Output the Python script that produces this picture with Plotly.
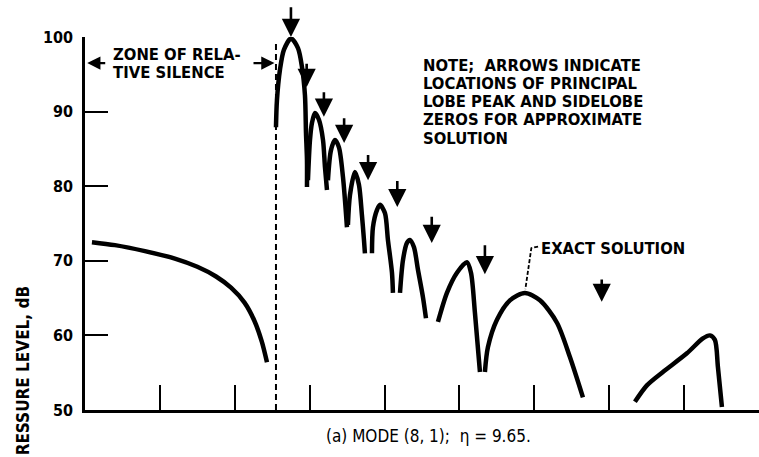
import plotly.graph_objects as go

# ---------------- data (x: angle-like axis units, y: sound pressure level, dB) ----------------
x_ticks = [10, 20, 30, 40, 50, 60, 70, 80]
y_ticks = [50, 60, 70, 80, 90, 100]

# Exact solution, split into segments (lobes)
seg_left_x = [0.93, 4.0, 8.0, 12.0, 15.0, 17.5, 19.5, 21.3, 22.6, 23.6, 24.3]
seg_left_y = [72.5, 72.1, 71.3, 70.3, 69.2, 67.9, 66.4, 64.4, 62.0, 59.2, 56.4]

lobe1_x = [25.50, 25.63, 26.03, 26.57, 27.50, 28.44, 28.97, 29.37, 29.51, 29.64, 29.64]
lobe1_y = [87.9, 91.5, 95.6, 98.3, 99.8, 98.5, 96.0, 92.2, 87.1, 83.5, 79.9]

lobe2_x = [29.77, 30.04, 30.31, 30.71, 31.24, 31.78, 32.04, 32.31]
lobe2_y = [80.8, 86.2, 88.5, 89.8, 88.9, 86.2, 82.6, 79.5]

lobe3_x = [32.44, 32.84, 33.38, 33.91, 34.45, 34.98]
lobe3_y = [80.8, 84.8, 86.2, 85.2, 81.2, 74.5]

lobe4_x = [35.11, 35.38, 36.05, 36.58, 36.98, 37.25, 37.38]
lobe4_y = [74.8, 78.8, 81.9, 80.2, 76.1, 72.8, 71.0]

lobe5_x = [38.32, 38.45, 38.98, 39.39, 40.05, 40.45, 40.99, 41.12]
lobe5_y = [71.0, 74.5, 76.8, 77.5, 76.4, 72.8, 68.4, 65.7]

lobe6_x = [42.06, 42.46, 42.99, 43.39, 43.93, 44.46, 45.13, 45.53]
lobe6_y = [65.7, 70.1, 72.4, 72.8, 71.8, 68.8, 65.1, 62.3]

lobe7_x = [47.13, 48.33, 49.67, 51.00, 51.54, 52.07, 52.74]
lobe7_y = [61.8, 65.7, 68.4, 69.8, 68.4, 63.0, 55.1]

lobe8_x = [53.40, 53.80, 55.01, 56.74, 58.74, 60.75, 63.02, 64.75, 66.49]
lobe8_y = [55.1, 58.4, 62.1, 64.7, 65.7, 64.7, 61.7, 57.1, 51.7]

lobe9_x = [73.43, 75.03, 77.17, 80.37, 82.51, 83.44, 84.11, 84.51, 85.05]
lobe9_y = [51.1, 53.3, 55.1, 57.6, 59.6, 60.0, 59.4, 55.8, 50.4]

# Arrows: principal lobe peak and sidelobe zeros of the approximate solution
arrow_x = [27.5, 29.6, 31.9, 34.6, 37.8, 41.7, 46.3, 53.4, 69.0]
arrow_tail = [104.2, 96.6, 92.8, 89.3, 84.4, 80.9, 76.1, 72.3, 67.7]
arrow_tip = [99.99, 93.3, 89.3, 85.8, 80.8, 77.2, 72.4, 68.2, 64.5]

silence_edge = 25.5  # boundary of zone of relative silence

note_lines = [
    "NOTE;  ARROWS INDICATE",
    "LOCATIONS OF PRINCIPAL",
    "LOBE PEAK AND SIDELOBE",
    "ZEROS FOR APPROXIMATE",
    "SOLUTION",
]

FONT = "Liberation Sans Narrow, DejaVu Sans Condensed, Arial Narrow, Liberation Sans, sans-serif"
TXT = 16.5

segments = [
    (seg_left_x, seg_left_y), (lobe1_x, lobe1_y), (lobe2_x, lobe2_y), (lobe3_x, lobe3_y),
    (lobe4_x, lobe4_y), (lobe5_x, lobe5_y), (lobe6_x, lobe6_y), (lobe7_x, lobe7_y),
    (lobe8_x, lobe8_y), (lobe9_x, lobe9_y),
]

fig = go.Figure()
for sx, sy in segments:
    fig.add_trace(go.Scatter(
        x=sx, y=sy, mode="lines",
        line=dict(color="black", width=4.5, shape="spline", smoothing=0.8),
        showlegend=False, hoverinfo="skip",
    ))

# dashed boundary line
fig.add_shape(type="line", x0=silence_edge, x1=silence_edge, y0=50, y1=99.3,
              xref="x", yref="y", line=dict(color="black", width=2, dash="6px,4px"))

annotations = []
for ax_, t0, t1 in zip(arrow_x, arrow_tail, arrow_tip):
    annotations.append(dict(
        x=ax_, y=t1, ax=ax_, ay=t0, xref="x", yref="y", axref="x", ayref="y",
        showarrow=True, arrowhead=2, arrowsize=1.4, arrowwidth=2.6, arrowcolor="black",
        text="", standoff=0,
    ))

# zone of relative silence arrows
annotations.append(dict(x=0.3, y=96.5, ax=2.9, ay=96.5, xref="x", yref="y", axref="x", ayref="y",
                        showarrow=True, arrowhead=2, arrowsize=1.1, arrowwidth=2.4,
                        arrowcolor="black", text=""))
annotations.append(dict(x=silence_edge - 0.2, y=96.5, ax=22.3, ay=96.5, xref="x", yref="y",
                        axref="x", ayref="y", showarrow=True, arrowhead=2, arrowsize=1.1,
                        arrowwidth=2.4, arrowcolor="black", text=""))
annotations.append(dict(x=3.6, y=97.6, xref="x", yref="y", text="ZONE OF RELA-", showarrow=False,
                        xanchor="left", yanchor="middle", borderpad=0,
                        font=dict(family=FONT, size=TXT, color="black", weight="bold")))
annotations.append(dict(x=3.6, y=95.2, xref="x", yref="y", text="TIVE SILENCE", showarrow=False,
                        xanchor="left", yanchor="middle", borderpad=0,
                        font=dict(family=FONT, size=TXT, color="black", weight="bold")))

# note text
for i, line in enumerate(note_lines):
    annotations.append(dict(
        x=45.0, y=96.2 - i * 2.44, xref="x", yref="y", text=line, showarrow=False,
        xanchor="left", yanchor="middle", borderpad=0,
        font=dict(family=FONT, size=TXT, color="black", weight="bold"),
    ))

# exact solution label
annotations.append(dict(x=60.7, y=71.7, xref="x", yref="y", text="EXACT SOLUTION", showarrow=False,
                        xanchor="left", yanchor="middle", borderpad=0,
                        font=dict(family=FONT, size=TXT, color="black", weight="bold")))
fig.add_shape(type="path", path="M 60.5 71.9 L 59.6 71.7 L 58.8 66.2", xref="x", yref="y",
              line=dict(color="black", width=1.8, dash="4px,2px"))

# caption
annotations.append(dict(x=0.509, y=-0.07, xref="paper", yref="paper",
                        text="(a) MODE (8, 1);  \u03b7 = 9.65.", showarrow=False,
                        xanchor="center", yanchor="middle",
                        font=dict(family=FONT, size=17, color="black")))

# y axis title (cropped in the original)
annotations.append(dict(x=-0.092, y=-0.123, xref="paper", yref="paper",
                        text="RESSURE LEVEL, dB", textangle=-90, showarrow=False,
                        xanchor="center", yanchor="bottom", borderpad=0,
                        font=dict(family=FONT, size=17, color="black", weight="bold")))

fig.update_layout(
    width=759, height=457,
    margin=dict(l=85, r=0, t=37, b=47),
    paper_bgcolor="white", plot_bgcolor="white",
    annotations=annotations,
    showlegend=False,
    xaxis=dict(range=[0, 90], tickvals=x_ticks, ticks="inside", ticklen=25, tickwidth=2,
               tickcolor="black", showticklabels=False, showgrid=False, zeroline=False,
               showline=True, linecolor="black", linewidth=2.5),
    yaxis=dict(range=[50, 100], tickvals=y_ticks, ticks="inside", ticklen=23, tickwidth=2,
               tickcolor="black", showgrid=False, zeroline=False, showline=True,
               linecolor="black", linewidth=2.5, ticklabelstandoff=6,
               tickfont=dict(family=FONT, size=16, color="black", weight="bold")),
)

fig.write_html("out.html")
